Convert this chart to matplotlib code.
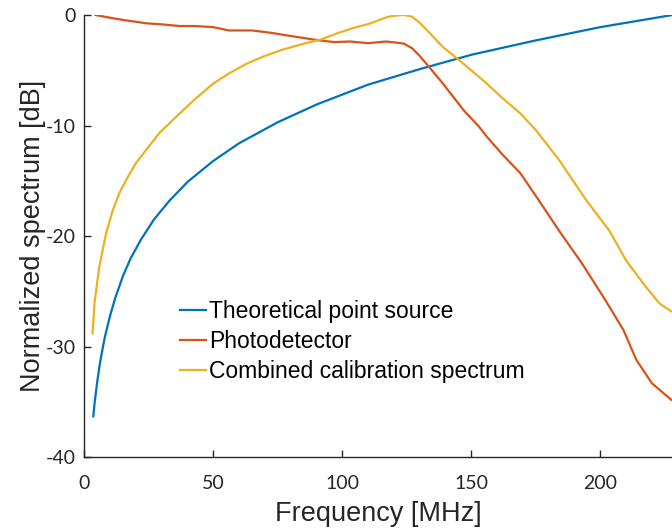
import numpy as np
import matplotlib
matplotlib.use('Agg')
import matplotlib.pyplot as plt

plt.rcParams['axes.unicode_minus'] = False

# values
f_theory = [3.5, 4, 5, 6, 7, 8, 10, 12, 15, 18, 22, 27, 33, 40, 50, 60, 75, 90,
            110, 130, 150, 175, 200, 228]
db_theory = [-36.3, -35.1, -33.2, -31.6, -30.3, -29.1, -27.2, -25.6, -23.6, -22.0,
             -20.3, -18.5, -16.8, -15.1, -13.2, -11.6, -9.7, -8.1, -6.3, -4.9,
             -3.6, -2.3, -1.1, 0.0]

f_pd = [4.3, 10, 15, 24, 30, 37, 43, 50, 56, 65, 72, 80, 91, 97, 103, 110, 117,
        121, 124, 127, 130, 134, 139, 143, 147, 153, 156, 162, 169, 176, 184, 193,
        202, 209, 214, 220, 227.5]
db_pd = [0, -0.25, -0.45, -0.75, -0.85, -1.0, -1.0, -1.1, -1.4, -1.4, -1.6, -1.9,
         -2.3, -2.45, -2.4, -2.55, -2.4, -2.5, -2.6, -3.0, -3.7, -4.8, -6.2, -7.4,
         -8.6, -10.1, -11.0, -12.6, -14.3, -16.7, -19.5, -22.5, -25.8, -28.5, -31.2,
         -33.3, -34.8]

f_comb = [3.2, 4, 5.8, 8.4, 11, 13.6, 17, 20, 25, 29, 37, 43, 50, 56, 63, 70, 76,
          85, 92, 98, 104, 111, 115, 118, 121, 124, 127, 130, 134, 139, 145.4, 153,
          156, 162, 169, 175, 184, 194.4, 203.5, 210, 217.7, 223, 227.5]
db_comb = [-28.8, -26.0, -22.8, -19.8, -17.7, -16.1, -14.6, -13.4, -11.9, -10.7,
           -8.9, -7.6, -6.2, -5.3, -4.4, -3.7, -3.2, -2.6, -2.2, -1.66, -1.2, -0.75,
           -0.4, -0.15, -0.05, 0.0, -0.15, -0.7, -1.66, -2.9, -4.1, -5.6, -6.2, -7.5,
           -8.9, -10.4, -13.1, -16.7, -19.5, -22.2, -24.6, -26.1, -26.8]

labels = ['Theoretical point source', 'Photodetector', 'Combined calibration spectrum']
colors = ['#0072BD', '#D95319', '#EDB120']

fig = plt.figure(figsize=(6.72, 5.31), dpi=100)
ax = fig.add_axes([0.1254, 0.1388, 0.8746, 0.833])

ax.plot(f_theory, db_theory, color=colors[0], lw=1.6, label=labels[0])
ax.plot(f_pd, db_pd, color=colors[1], lw=1.6, label=labels[1])
ax.plot(f_comb, db_comb, color=colors[2], lw=1.6, label=labels[2])

ax.set_xlim(0, 227.8)
ax.set_ylim(-40, 0)
ax.set_xticks([0, 50, 100, 150, 200])
ax.set_yticks([-40, -30, -20, -10, 0])

axcol = '#262626'
for s in ['top', 'right']:
    ax.spines[s].set_visible(False)
for s in ['left', 'bottom']:
    ax.spines[s].set_color(axcol)
    ax.spines[s].set_linewidth(1.0)
ax.tick_params(direction='in', length=5, width=1.0, color=axcol,
               labelcolor=axcol, labelsize=14)
ax.tick_params(axis='x', pad=13)
ax.tick_params(axis='y', pad=6)
for t in ax.get_xticklabels() + ax.get_yticklabels():
    t.set_family('Lato')

ax.set_xlabel('Frequency [MHz]', fontsize=19.5, family='Liberation Sans',
              color=axcol, labelpad=6)
ax.set_ylabel('Normalized spectrum [dB]', fontsize=19.5, family='Liberation Sans',
              color=axcol, labelpad=0)

leg = ax.legend(loc='upper left', bbox_to_anchor=(0.163, 0.356), frameon=False,
                prop={'family': 'Liberation Sans', 'size': 16.5},
                handlelength=1.15, handletextpad=0.12, labelspacing=0.3,
                borderpad=0, borderaxespad=0)

fig.savefig('out.png', dpi=100)
